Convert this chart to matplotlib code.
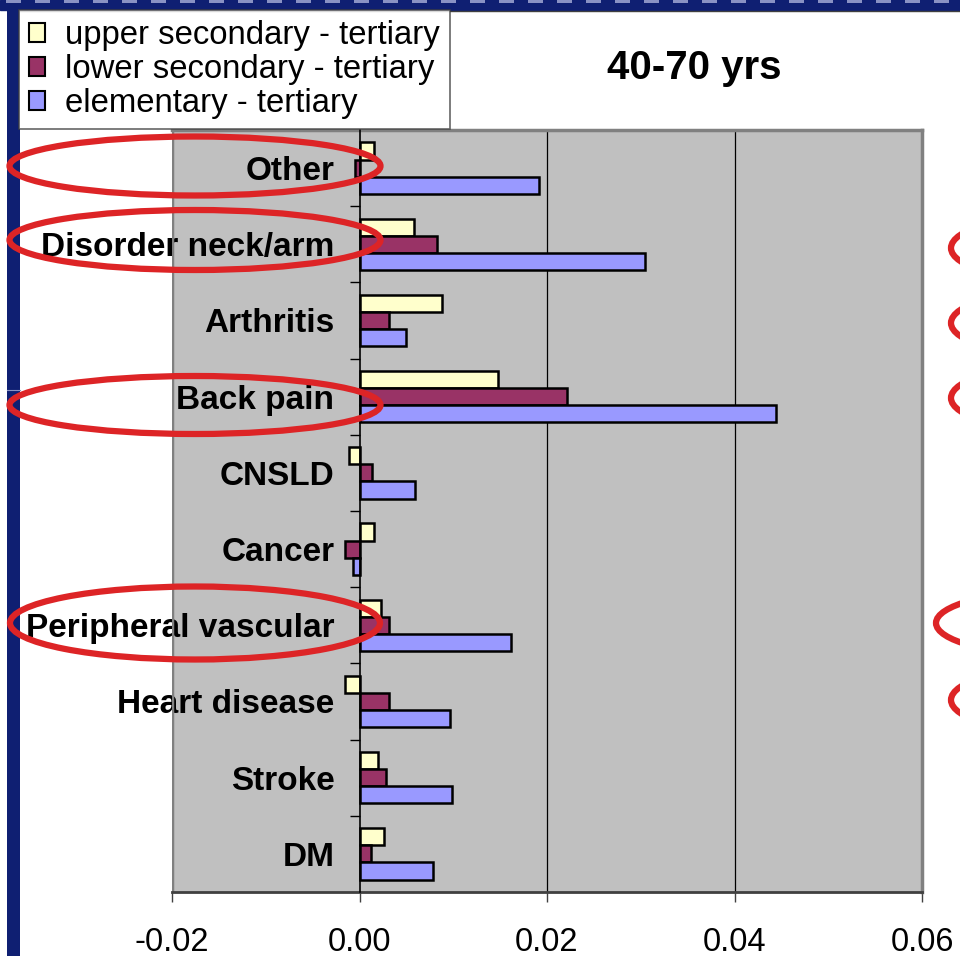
import numpy as np
import matplotlib.pyplot as plt
from matplotlib.patches import Ellipse, Rectangle, Patch

categories = ['Other', 'Disorder neck/arm', 'Arthritis', 'Back pain', 'CNSLD',
              'Cancer', 'Peripheral vascular', 'Heart disease', 'Stroke', 'DM']
upper_sec = [0.0015, 0.0058, 0.0088, 0.0148, -0.0011, 0.0015, 0.0023, -0.0015, 0.0020, 0.0026]
lower_sec = [-0.0005, 0.0083, 0.0031, 0.0221, 0.0013, -0.0015, 0.0031, 0.0031, 0.0028, 0.0012]
elementary = [0.0191, 0.0305, 0.0050, 0.0444, 0.0059, -0.0007, 0.0162, 0.0096, 0.0099, 0.0078]
series_names = ['upper secondary - tertiary', 'lower secondary - tertiary', 'elementary - tertiary']
colors = ['#FFFFCC', '#993366', '#9999FF']
xticks = [-0.02, 0.0, 0.02, 0.04, 0.06]

W, H = 960, 956
plt.rcParams['font.family'] = ['Liberation Sans', 'DejaVu Sans']
fig = plt.figure(figsize=(W / 100, H / 100), dpi=100)

# pixel (from top-left) -> figure fraction
def fx(px):
    return px / W

def fy(py):
    return 1 - py / H

ax = fig.add_axes([fx(172), fy(892), fx(922) - fx(172), fy(130) - fy(892)])
ax.set_facecolor('#C0C0C0')

y = np.arange(len(categories))
bh = 0.224
for i, (vals, name, col) in enumerate(zip([upper_sec, lower_sec, elementary], series_names, colors)):
    ax.barh(y + (i - 1) * bh, vals, height=bh, color=col, edgecolor='black',
            linewidth=1.8, label=name, zorder=3)

ax.set_xlim(-0.02, 0.06)
ax.set_ylim(len(categories) - 0.5, -0.5)
ax.set_xticks(xticks)
ax.set_xticklabels([f'{t:.2f}' for t in xticks], fontsize=23.5)
for t in xticks[2:4]:
    ax.axvline(t, color='black', lw=0.9, zorder=1)
ax.axvline(-0.02, color='#808080', lw=2.5, zorder=2)

# y axis sits on zero, ticks between categories, labels at centres
ax.spines['left'].set_position(('data', 0))
ax.spines['left'].set_color('black')
ax.spines['left'].set_linewidth(1.2)
ax.spines['left'].set_zorder(4)
ax.set_yticks(y[1:] - 0.5)
ax.set_yticklabels([])
ax.set_yticks(y, minor=True)
ax.set_yticklabels(categories, minor=True, fontsize=24, fontweight='bold')
ax.tick_params(axis='y', which='major', direction='out', length=7, width=1)
ax.tick_params(axis='y', which='minor', length=0, pad=18)
ax.tick_params(axis='x', direction='out', length=7, width=1, color='#404040', pad=18)

for s in ['top', 'right']:
    ax.spines[s].set_color('#808080')
    ax.spines[s].set_linewidth(2.5)
ax.spines['bottom'].set_color('#404040')
ax.spines['bottom'].set_linewidth(2)

handles = [Patch(facecolor=c, edgecolor='black', linewidth=1.5) for c in colors]
leg = fig.legend(handles, series_names, loc='upper left', bbox_to_anchor=(fx(19), fy(10)),
                 frameon=True, fancybox=False, edgecolor='#404040', fontsize=23.7,
                 handlelength=0.5, handleheight=0.5, handletextpad=0.6,
                 labelspacing=0.1, borderpad=0.3, borderaxespad=0)
leg.get_frame().set_linewidth(1.2)

fig.text(fx(694), fy(68), '40-70 yrs', ha='center', va='center', fontsize=29, fontweight='bold')

# slide frame: navy band on top with dashes, navy bar on the left
navy = '#0F1F72'
fig.add_artist(Rectangle((0, fy(10)), 1, 10 / H, transform=fig.transFigure, color=navy, zorder=0.5))
for x0 in range(0, W, 29):
    fig.add_artist(Rectangle((fx(x0 + 6), fy(3)), fx(15), 3 / H, transform=fig.transFigure,
                             color='#8A92C4', lw=0, zorder=0.6))
fig.add_artist(Rectangle((fx(7), 0), fx(13), fy(10), transform=fig.transFigure, color=navy, lw=0, zorder=0.5))
fig.add_artist(plt.Line2D([fx(20), 1], [fy(10.5), fy(10.5)], transform=fig.transFigure, color='#404040', lw=1))
fig.add_artist(plt.Line2D([fx(7), fx(20)], [fy(390), fy(390)], transform=fig.transFigure, color='#8A92C4', lw=0.8))

# red hand-drawn highlight ellipses (cx, cy, w, h in px)
ellipses = [(195, 166, 371, 59), (195, 240, 371, 60), (195, 405, 371, 58), (195, 623, 370, 73),
            (1071, 248, 240, 68), (1071, 323, 240, 68), (1071, 398, 240, 68),
            (1056, 623, 240, 64), (1071, 700, 240, 68)]
for cx, cy, w, h in ellipses:
    fig.add_artist(Ellipse((fx(cx), fy(cy)), w / W, h / H, transform=fig.transFigure,
                           fill=False, edgecolor='#DD2426', lw=4.5, zorder=6))

fig.savefig('out.png', dpi=100)
